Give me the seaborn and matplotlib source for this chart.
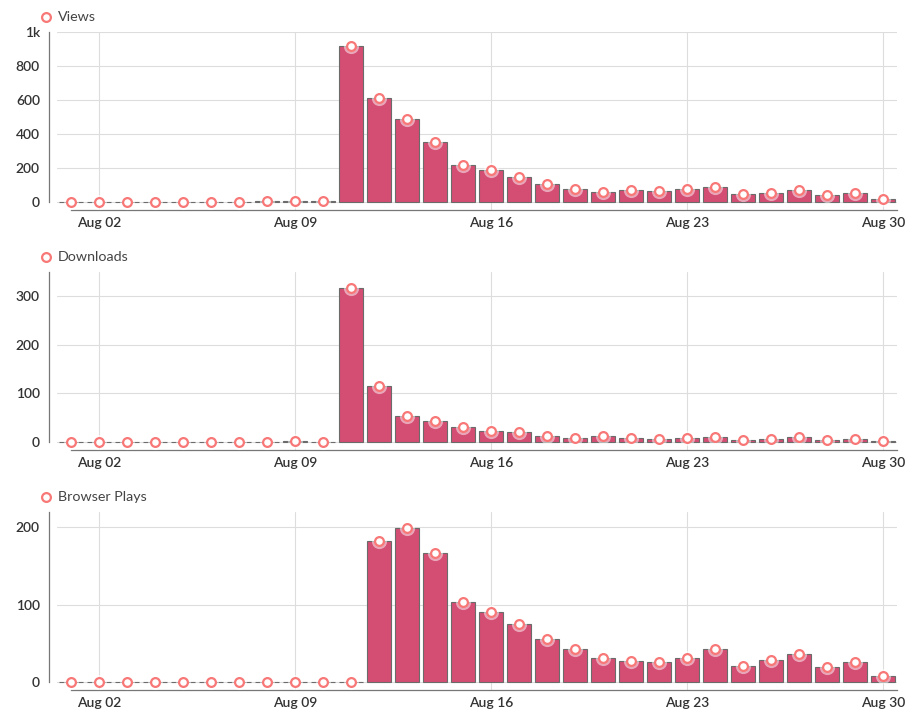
import numpy as np
import pandas as pd
import seaborn as sns
import matplotlib.pyplot as plt

sns.set_style("white")
plt.rcParams["font.family"] = ["Lato", "DejaVu Sans"]

# daily stats, Aug 01 .. Aug 30
days = [f"Aug {d:02d}" for d in range(1, 31)]
views = [0, 0, 0, 0, 0, 0, 0, 3, 3, 3,
         917, 611, 487, 351, 215, 191, 150, 108, 79, 61,
         73, 67, 79, 91, 49, 55, 73, 43, 55, 20]
downloads = [0, 0, 0, 0, 0, 0, 0, 0, 2, 0,
             317, 115, 54, 43, 31, 23, 21, 13, 9, 13,
             9, 7, 9, 11, 5, 7, 11, 5, 7, 3]
browser_plays = [0, 0, 0, 0, 0, 0, 0, 0, 0, 0,
                 0, 182, 199, 167, 104, 90, 75, 56, 43, 31,
                 27, 26, 31, 43, 21, 29, 36, 20, 26, 8]

panels = ["Views", "Downloads", "Browser Plays"]
series = [views, downloads, browser_plays]
y_max = [1000, 350, 220]
y_ticks = [[0, 200, 400, 600, 800, 1000], [0, 100, 200, 300], [0, 100, 200]]
y_ticklabels = [["0", "200", "400", "600", "800", "1k"], ["0", "100", "200", "300"], ["0", "100", "200"]]
x_tick_days = ["Aug 02", "Aug 09", "Aug 16", "Aug 23", "Aug 30"]

BAR = "#d44d73"
EDGE = "#6b6b6b"
MARK = "#f87777"
GRID = "#dddddd"
AXIS = "#777777"
TEXT = "#444444"

W, H = 923, 725
fig = plt.figure(figsize=(W / 100, H / 100), dpi=100)

for i, (name, vals) in enumerate(zip(panels, series)):
    top = 32 + 240 * i
    ax = fig.add_axes([57 / W, 1 - (top + 178) / H, 840 / W, 178 / H])
    df = pd.DataFrame({"day": days, "value": vals})

    sns.barplot(data=df, x="day", y="value", ax=ax, color=BAR, saturation=1,
                width=0.875, edgecolor=EDGE, linewidth=0.8, errorbar=None, zorder=2)
    # soft halo behind markers
    sns.scatterplot(data=df, x="day", y="value", ax=ax, s=120, color="white",
                    alpha=0.5, linewidth=0, zorder=3)
    sns.scatterplot(data=df, x="day", y="value", ax=ax, s=40, color="white",
                    edgecolor=MARK, linewidth=1.6, zorder=4, label=name)

    ymax = y_max[i]
    ax.set_xlim(-0.5, 29.5)
    ax.set_ylim(-ymax * 8 / 170, ymax)

    ax.set_xticks([days.index(d) for d in x_tick_days])
    ax.set_xticklabels(x_tick_days)
    ax.set_xticks([0], minor=True)
    ax.set_yticks(y_ticks[i])
    ax.set_yticklabels(y_ticklabels[i])
    ax.set_yticks([0, ymax], minor=True)
    ax.yaxis.remove_overlapping_locs = False

    ax.grid(True, which="major", color=GRID, linewidth=0.8, zorder=0)
    ax.set_axisbelow(True)

    for s in ["top", "right"]:
        ax.spines[s].set_visible(False)
    ax.spines["left"].set_position(("outward", 5.8))
    ax.spines["left"].set_bounds(0, ymax)
    ax.spines["bottom"].set_bounds(0, 29.5)
    for s in ["left", "bottom"]:
        ax.spines[s].set_color(AXIS)
        ax.spines[s].set_linewidth(0.9)

    ax.tick_params(axis="x", which="both", direction="out", length=3, width=0.8,
                   color=AXIS, pad=2, labelsize=10, labelcolor="#333333")
    ax.tick_params(axis="y", which="major", length=0, pad=6.5, labelsize=10,
                   labelcolor="#333333")
    ax.tick_params(axis="y", which="minor", direction="out", length=4.3, width=0.8,
                   color=AXIS)
    for lab in ax.get_xticklabels() + ax.get_yticklabels():
        lab.set_fontweight("semibold")

    ax.set_xlabel("")
    ax.set_ylabel("")

    leg = ax.legend(loc="center left", bbox_to_anchor=(40.5 / W, 1 - (17 + 240 * i) / H),
                    bbox_transform=fig.transFigure, frameon=False, borderpad=0,
                    borderaxespad=0, handlelength=0.8, handletextpad=0.4,
                    fontsize=10.3)
    for t in leg.get_texts():
        t.set_color(TEXT)

fig.savefig("out.png", dpi=100)
